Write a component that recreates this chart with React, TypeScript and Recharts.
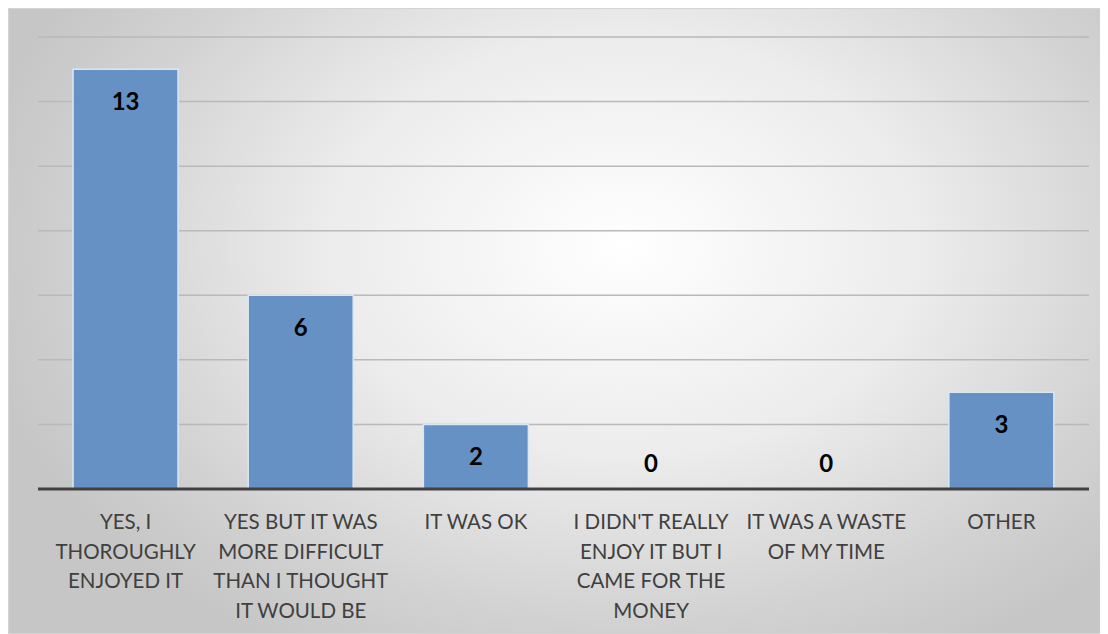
import { Bar, CartesianGrid, ComposedChart, Line, XAxis, YAxis } from 'recharts';

const categories: string[][] = [
  ['YES, I', 'THOROUGHLY', 'ENJOYED IT'],
  ['YES BUT IT WAS', 'MORE DIFFICULT', 'THAN I THOUGHT', 'IT WOULD BE'],
  ['IT WAS OK'],
  ["I DIDN'T REALLY", 'ENJOY IT BUT I', 'CAME FOR THE', 'MONEY'],
  ['IT WAS A WASTE', 'OF MY TIME'],
  ['OTHER'],
];
const counts = [13, 6, 2, 0, 0, 3];
const yTicks = [0, 2, 4, 6, 8, 10, 12, 14];

const data = categories.map((lines, i) => ({ name: lines.join(' '), lines, count: counts[i] }));

function CategoryTick(props: any) {
  const { x, y, payload } = props;
  const entry = data.find((d) => d.name === payload.value);
  const lines = entry ? entry.lines : [String(payload.value)];
  return (
    <text x={x} y={y} textAnchor="middle" fill="#404040" fontSize={20.5} fontFamily="Lato, 'Open Sans', sans-serif">
      {lines.map((line, i) => (
        <tspan key={i} x={x} dy={i === 0 ? 32 : 29.5}>
          {line}
        </tspan>
      ))}
    </text>
  );
}

// labels sit inside the top of each bar, or just above the axis for zeros
function ValueLabel(props: any) {
  const { x, y, value } = props;
  const cy = value > 0 ? y + 31 : y - 27;
  return (
    <text
      x={x}
      y={cy}
      textAnchor="middle"
      dominantBaseline="central"
      fill="#000"
      fontSize={24}
      fontWeight={700}
      fontFamily="Lato, 'Open Sans', sans-serif"
    >
      {value}
    </text>
  );
}

export default function App() {
  return (
    <div
      style={{
        width: 1100,
        height: 626,
        boxSizing: 'border-box',
        border: '1px solid #d4d4d4',
        background: 'radial-gradient(ellipse 60% 75% at 56% 38%, #ffffff 0%, #ececec 45%, #d2d2d2 80%, #c6c6c6 100%)',
      }}
    >
      <ComposedChart
        width={1098}
        height={624}
        data={data}
        margin={{ top: 28, right: 18, bottom: 10, left: 29 }}
        barCategoryGap="20%"
      >
        <CartesianGrid horizontal vertical={false} stroke="#b9b9b9" strokeWidth={1.5} />
        <YAxis hide domain={[0, 14]} ticks={yTicks} />
        <XAxis
          dataKey="name"
          interval={0}
          height={134}
          tickLine={false}
          axisLine={{ stroke: '#404040', strokeWidth: 3 }}
          tick={<CategoryTick />}
        />
        <Bar dataKey="count" fill="#6591c5" stroke="#dce6f2" strokeWidth={1.5} isAnimationActive={false} />
        <Line
          dataKey="count"
          stroke="none"
          dot={false}
          activeDot={false}
          legendType="none"
          isAnimationActive={false}
          label={<ValueLabel />}
        />
      </ComposedChart>
    </div>
  );
}
